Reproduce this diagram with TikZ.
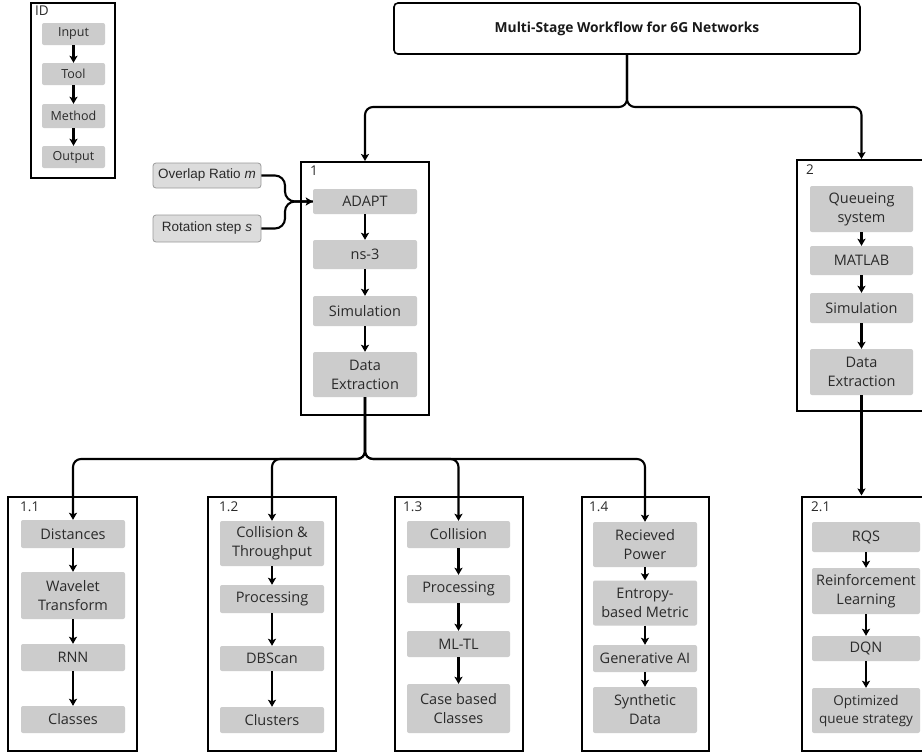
\documentclass[tikz,border=0pt]{standalone}
\usepackage{fontspec}
\setmainfont{Open Sans}
\newfontfamily\arialf{Liberation Sans}
\usetikzlibrary{arrows.meta,calc}
\definecolor{boxgray}{HTML}{CCCCCC}
\definecolor{txt}{HTML}{2A2A2A}
\definecolor{inpfill}{HTML}{DCDCDC}
\definecolor{inpdraw}{HTML}{9A9A9A}
\begin{document}
\begin{tikzpicture}[x=1pt,y=-1pt,
  ibox/.style={fill=boxgray, rounded corners=2pt, inner sep=1pt, align=center, text=txt,
    font=\fontsize{14.5}{19}\selectfont},
  idbox/.style={fill=boxgray, rounded corners=2pt, inner sep=1pt, text=txt,
    font=\fontsize{12.5}{14}\selectfont, minimum width=63pt, minimum height=22pt},
  inbox/.style={fill=inpfill, draw=inpdraw, line width=0.8pt, rounded corners=3pt, inner sep=1pt,
    text=txt, font=\arialf\fontsize{13.5}{16}\selectfont, minimum width=108pt},
  frame/.style={draw=black, line width=2pt, inner sep=0pt},
  lbl/.style={anchor=north west, inner sep=0pt, text=txt, font=\fontsize{13.5}{15}\selectfont},
  conn/.style={draw=black, line width=2.1pt, -{Stealth[length=7pt,width=8pt,inset=1.5pt]}},
  plainconn/.style={draw=black, line width=2.1pt},
]
\useasboundingbox (0,0) rectangle (922,753);
\clip (0,0) rectangle (922,753);
\fill[white] (0,0) rectangle (922,753);

% ---------- ID legend ----------
\node[frame, minimum width=84pt, minimum height=175pt] (fid) at (73,90.5) {};
\node[lbl] (lid) at (35,6) {ID};
\node[idbox] (i1) at (73.5,34) {Input};
\node[idbox] (i2) at (73.5,74) {Tool};
\node[idbox, minimum height=24pt] (i3) at (73.5,116) {Method};
\node[idbox] (i4) at (73.5,157) {Output};
\draw[conn] (i1.south) -- (i2.north);
\draw[conn] (i2.south) -- (i3.north);
\draw[conn] (i3.south) -- (i4.north);

% ---------- Title ----------
\node[draw=black, line width=1.6pt, rounded corners=4pt, minimum width=466pt, minimum height=51pt,
  text=black!90, font=\bfseries\fontsize{13.8}{16}\selectfont] (title) at (627,28.5)
  {Multi-Stage Workflow for 6G Networks};

% ---------- Box 1 ----------
\node[frame, minimum width=128pt, minimum height=253pt] (f1) at (365,288.5) {};
\node[lbl] (l1) at (310,166) {1};
\node[ibox, minimum width=104pt, minimum height=25pt] (ad) at (365,201.5) {ADAPT};
\node[ibox, minimum width=104pt, minimum height=29pt] (ns) at (365,254.5) {ns-3};
\node[ibox, minimum width=104pt, minimum height=30pt] (s1) at (365,311) {Simulation};
\node[ibox, minimum width=104pt, minimum height=45pt] (de1) at (365,374.5) {Data\\Extraction};
\draw[conn] (ad.south) -- (ns.north);
\draw[conn] (ns.south) -- (s1.north);
\draw[conn] (s1.south) -- (de1.north);

% inputs
\node[inbox, minimum height=25pt] (ov) at (207,175.5) {Overlap Ratio \textit{m}};
\node[inbox, minimum height=27pt] (rs) at (207,228.5) {Rotation step \textit{s}};
\coordinate (jn) at (285,201.5);
\draw[plainconn, rounded corners=10pt] (ov.east) -| (jn) -- (ad.west);
\draw[conn, rounded corners=10pt] (rs.east) -| (jn) -- (ad.west);

% ---------- Box 2 ----------
\node[frame, minimum width=138pt, minimum height=251pt] (f2) at (866,285.5) {};
\node[lbl] (l2) at (806,165) {2};
\node[ibox, minimum width=103pt, minimum height=46pt] (qs) at (861.5,209) {Queueing\\system};
\node[ibox, minimum width=103pt, minimum height=29pt] (ml) at (861.5,260.5) {MATLAB};
\node[ibox, minimum width=103pt, minimum height=30pt] (s2) at (861.5,308) {Simulation};
\node[ibox, minimum width=103pt, minimum height=46pt] (de2) at (861.5,372) {Data\\Extraction};
\draw[conn] (qs.south) -- (ml.north);
\draw[conn] (ml.south) -- (s2.north);
\draw[conn] (s2.south) -- (de2.north);

% ---------- title connectors ----------
\coordinate (h1) at (0,107);
\draw[conn, rounded corners=8pt] (title.south) |- (ad |- h1) -- (ad |- f1.north);
\draw[conn, rounded corners=8pt] (title.south) |- (qs |- h1) -- (qs |- f2.north);

% ---------- Box 1.1 ----------
\node[frame, minimum width=129pt, minimum height=254pt] (f11) at (72.5,624) {};
\node[lbl] (l11) at (20,502) {1.1};
\node[ibox, minimum width=104pt, minimum height=28pt] (a1) at (73,534) {Distances};
\node[ibox, minimum width=104pt, minimum height=47pt] (a2) at (73,595.5) {Wavelet\\Transform};
\node[ibox, minimum width=104pt, minimum height=27pt] (a3) at (73,657.5) {RNN};
\node[ibox, minimum width=104pt, minimum height=27pt] (a4) at (73,719.5) {Classes};
\draw[conn] (a1.south) -- (a2.north);
\draw[conn] (a2.south) -- (a3.north);
\draw[conn] (a3.south) -- (a4.north);

% ---------- Box 1.2 ----------
\node[frame, minimum width=128pt, minimum height=254pt] (f12) at (272,624) {};
\node[lbl] (l12) at (219,502) {1.2};
\node[ibox, minimum width=104pt, minimum height=45pt] (b1) at (272,543.5) {Collision \&\\Throughput};
\node[ibox, minimum width=104pt, minimum height=28pt] (b2) at (272,599) {Processing};
\node[ibox, minimum width=104pt, minimum height=25pt] (b3) at (272,658.5) {DBScan};
\node[ibox, minimum width=104pt, minimum height=26pt] (b4) at (272,720) {Clusters};
\draw[conn] (b1.south) -- (b2.north);
\draw[conn] (b2.south) -- (b3.north);
\draw[conn] (b3.south) -- (b4.north);

% ---------- Box 1.3 ----------
\node[frame, minimum width=128pt, minimum height=254pt] (f13) at (459,624) {};
\node[lbl] (l13) at (403,502) {1.3};
\node[ibox, minimum width=103pt, minimum height=27pt] (c1) at (458.5,534.5) {Collision};
\node[ibox, minimum width=103pt, minimum height=28pt] (c2) at (458.5,589) {Processing};
\node[ibox, minimum width=103pt, minimum height=26pt] (c3) at (458.5,644) {ML-TL};
\node[ibox, minimum width=103pt, minimum height=49pt] (c4) at (458.5,708.5) {Case based\\Classes};
\draw[conn] (c1.south) -- (c2.north);
\draw[conn] (c2.south) -- (c3.north);
\draw[conn] (c3.south) -- (c4.north);

% ---------- Box 1.4 ----------
\node[frame, minimum width=127pt, minimum height=254pt] (f14) at (645.5,624) {};
\node[lbl] (l14) at (589,502) {1.4};
\node[ibox, minimum width=104pt, minimum height=45pt] (e1) at (645,544.5) {Recieved\\Power};
\node[ibox, minimum width=104pt, minimum height=45pt] (e2) at (645,603) {Entropy-\\based Metric};
\node[ibox, minimum width=104pt, minimum height=27pt] (e3) at (645,658.5) {Generative AI};
\node[ibox, minimum width=104pt, minimum height=46pt] (e4) at (645,710) {Synthetic\\Data};
\draw[conn] (e1.south) -- (e2.north);
\draw[conn] (e2.south) -- (e3.north);
\draw[conn] (e3.south) -- (e4.north);

% ---------- Box 2.1 ----------
\node[frame, minimum width=138pt, minimum height=254pt] (f21) at (871,623.5) {};
\node[lbl] (l21) at (811,502) {2.1};
\node[ibox, minimum width=108pt, minimum height=30pt] (g1) at (866,537) {RQS};
\node[ibox, minimum width=108pt, minimum height=46pt] (g2) at (866,591) {Reinforcement\\Learning};
\node[ibox, minimum width=108pt, minimum height=25pt] (g3) at (866,648.5) {DQN};
\node[ibox, minimum width=108pt, minimum height=45pt, font=\fontsize{13.5}{18}\selectfont] (g4) at (866,710.5) {Optimized\\queue strategy};
\draw[conn] (g1.south) -- (g2.north);
\draw[conn] (g2.south) -- (g3.north);
\draw[conn] (g3.south) -- (g4.north);

% ---------- tree connectors ----------
\coordinate (h2) at (0,459);
\draw[conn, rounded corners=8pt] (de1.south) |- (a1 |- h2) -- (a1.north);
\draw[conn, rounded corners=8pt] (de1.south) |- (b1 |- h2) -- (b1.north);
\draw[conn, rounded corners=8pt] (de1.south) |- (c1 |- h2) -- (c1.north);
\draw[conn, rounded corners=8pt] (de1.south) |- (e1 |- h2) -- (e1.north);
\draw[conn] (de2.south) -- (de2.south |- f21.north);
\end{tikzpicture}
\end{document}
